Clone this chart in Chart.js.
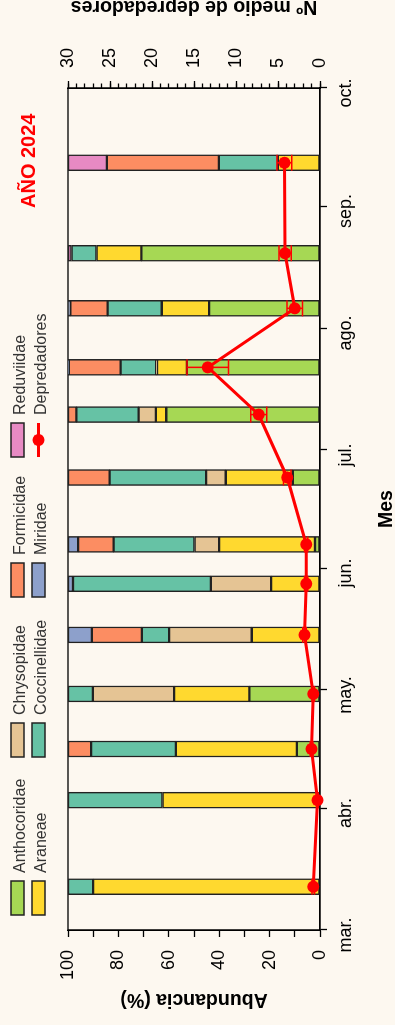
<!DOCTYPE html>
<html lang="es">
<head>
<meta charset="utf-8">
<title>Depredadores 2024</title>
<script src="https://cdn.jsdelivr.net/npm/chart.js@4.4.1/dist/chart.umd.min.js"></script>
<style>
  html, body { margin: 0; padding: 0; background: #fdf8f0; overflow: hidden; }
  /* the figure is laid out landscape and turned a quarter turn counter-clockwise */
  #frame {
    position: absolute; left: 0; top: 0;
    width: 1025px; height: 395px;
    transform-origin: 0 0;
    transform: translateY(1025px) rotate(-90deg);
  }
  canvas { display: block; }
</style>
</head>
<body>
<div id="frame"><canvas id="chart" width="1025" height="395"></canvas></div>
<script>
// ---- data ----------------------------------------------------------------
const seasonStart = '2024-03-01';
const samplingDates = ['2024-03-12', '2024-04-03', '2024-04-16', '2024-04-30', '2024-05-15',
  '2024-05-28', '2024-06-07', '2024-06-24', '2024-07-10', '2024-07-22', '2024-08-06',
  '2024-08-20', '2024-09-12'];

// relative abundance (%) of each predator group on each sampling date
const anthocoridae  = [null, null, 9.2, 28.0, null, null, 2.0, 10.8, 61.0, 52.8, 44.0, 70.9, null];
const araneae       = [90.0, 62.5, 48.0, 29.9, 27.1, 19.4, 38.0, 26.6, 4.1, 11.9, 18.8, 17.8, 16.7];
const chrysopidae   = [null, null, null, 32.2, 32.8, 23.9, 9.8, 7.8, 6.9, 0.3, null, null, null];
const coccinellidae = [10.0, 37.5, 33.6, 9.9, 10.8, 54.7, 32.1, 38.3, 24.7, 14.1, 21.5, 9.9, 23.4];
const formicidae    = [null, null, 9.2, null, 19.8, null, 14.1, 16.5, 3.3, 20.6, 14.8, null, 44.5];
const miridae       = [null, null, null, null, 9.5, 2.0, 4.0, null, null, 0.3, 0.9, null, null];
const reduviidae    = [null, null, null, null, null, null, null, null, null, null, null, 1.4, 15.4];

// mean number of predators and its standard error
const predatorMean = [0.8, 0.3, 1.0, 0.8, 1.85, 1.65, 1.65, 3.9, 7.3, 13.35, 3.0, 4.16, 4.24];
const predatorSE   = [0.15, 0.1, 0.15, 0.15, 0.2, 0.2, 0.2, 0.45, 0.95, 2.47, 0.93, 0.73, 0.89];

// axes
const monthStarts = ['2024-03-01', '2024-04-01', '2024-05-01', '2024-06-01', '2024-07-01',
  '2024-08-01', '2024-09-01', '2024-10-01'];
const monthLabels = ['mar.', 'abr.', 'may.', 'jun.', 'jul.', 'ago.', 'sep.', 'oct.'];
const abundanceTicks  = [0, 10, 20, 30, 40, 50, 60, 70, 80, 90, 100];
const abundanceLabels = [0, 20, 40, 60, 80, 100];
const predatorTicks   = [0, 1, 2, 3, 4, 5, 6, 7, 8, 9, 10, 11, 12, 13, 14, 15, 16, 17, 18, 19, 20,
  21, 22, 23, 24, 25, 26, 27, 28, 29, 30];
const predatorLabels  = [0, 5, 10, 15, 20, 25, 30];

const taxa = ['Anthocoridae', 'Araneae', 'Chrysopidae', 'Coccinellidae', 'Formicidae', 'Miridae', 'Reduviidae'];
const taxaValues = [anthocoridae, araneae, chrysopidae, coccinellidae, formicidae, miridae, reduviidae];
const predatorLabel = 'Depredadores';

// ---- styling -------------------------------------------------------------
const taxaColors = ['#a6d854', '#ffd92f', '#e5c494', '#66c2a5', '#fc8d62', '#8da0cb', '#e78ac3'];
const RED = '#ff0000';
const INK = '#000000';
const FONT = "'Liberation Sans', Arial, Helvetica, sans-serif";

// ---- helpers -------------------------------------------------------------
const DAY = 86400000;
const dayOf = d => (Date.parse(d) - Date.parse(seasonStart)) / DAY;
const samplingDays = samplingDates.map(dayOf);
const monthDays = monthStarts.map(dayOf);
const seasonEnd = monthDays[monthDays.length - 1];

Chart.defaults.font.family = FONT;
Chart.defaults.color = INK;

const barSets = taxa.map((name, k) => ({
  type: 'bar',
  label: name,
  data: samplingDays.map((d, i) => ({ x: d, y: taxaValues[k][i] })),
  backgroundColor: taxaColors[k],
  borderColor: '#222222',
  borderWidth: 1.5,
  borderSkipped: false,
  barThickness: 16,
  yAxisID: 'y',
  order: 2
}));

const lineSet = {
  type: 'line',
  label: predatorLabel,
  data: samplingDays.map((d, i) => ({ x: d, y: predatorMean[i] })),
  borderColor: RED,
  borderWidth: 3,
  pointRadius: 6,
  pointHoverRadius: 6,
  pointBackgroundColor: RED,
  pointBorderWidth: 0,
  tension: 0,
  yAxisID: 'y2',
  clip: false,
  order: 0
};

// ---- plugins -------------------------------------------------------------
const plotBox = {
  id: 'plotBox',
  beforeDatasetsDraw(chart) {
    const { ctx, chartArea: a } = chart;
    ctx.save();
    ctx.strokeStyle = INK;
    ctx.lineWidth = 1.3;
    ctx.strokeRect(a.left, a.top, a.right - a.left, a.bottom - a.top);
    ctx.restore();
  }
};

const errorBars = {
  id: 'errorBars',
  afterDatasetsDraw(chart) {
    const idx = chart.data.datasets.indexOf(lineSet);
    const meta = chart.getDatasetMeta(idx);
    const ys = chart.scales.y2;
    const { ctx } = chart;
    ctx.save();
    ctx.strokeStyle = RED;
    ctx.lineWidth = 1.5;
    meta.data.forEach((pt, i) => {
      const lo = ys.getPixelForValue(predatorMean[i] - predatorSE[i]);
      const hi = ys.getPixelForValue(predatorMean[i] + predatorSE[i]);
      ctx.beginPath();
      ctx.moveTo(pt.x, lo); ctx.lineTo(pt.x, hi);
      ctx.moveTo(pt.x - 8, lo); ctx.lineTo(pt.x + 8, lo);
      ctx.moveTo(pt.x - 8, hi); ctx.lineTo(pt.x + 8, hi);
      ctx.stroke();
    });
    ctx.restore();
  }
};

const annotations = {
  id: 'annotations',
  afterDraw(chart) {
    const { ctx, chartArea: a } = chart;
    ctx.save();

    // right-hand axis title, reading upwards
    ctx.fillStyle = INK;
    ctx.font = `bold 19.5px ${FONT}`;
    ctx.textAlign = 'center';
    ctx.textBaseline = 'alphabetic';
    ctx.translate(1024, (a.top + a.bottom) / 2);
    ctx.rotate(-Math.PI / 2);
    ctx.fillText('Nº medio de depredadores', 0, 0);
    ctx.setTransform(1, 0, 0, 1, 0, 0);

    // year tag
    ctx.fillStyle = RED;
    ctx.font = `bold 20px ${FONT}`;
    ctx.textAlign = 'left';
    ctx.fillText('AÑO 2024', 817, 35);

    // legend: four columns, two rows, filled column by column
    const colX = [110, 268, 428, 568];
    const rowY = [11, 32];
    const boxW = 34, boxH = 13;
    const items = taxa.map((name, k) => ({ name, color: taxaColors[k] }));
    items.push({ name: predatorLabel, line: true });
    ctx.font = `16px ${FONT}`;
    items.forEach((it, i) => {
      const x = colX[Math.floor(i / 2)];
      const y = rowY[i % 2];
      if (it.line) {
        ctx.strokeStyle = RED;
        ctx.lineWidth = 3;
        ctx.beginPath();
        ctx.moveTo(x, y + boxH / 2); ctx.lineTo(x + boxW, y + boxH / 2);
        ctx.stroke();
        ctx.fillStyle = RED;
        ctx.beginPath();
        ctx.arc(x + boxW / 2, y + boxH / 2, 6, 0, Math.PI * 2);
        ctx.fill();
      } else {
        ctx.fillStyle = it.color;
        ctx.fillRect(x, y, boxW, boxH);
        ctx.strokeStyle = '#222222';
        ctx.lineWidth = 1.5;
        ctx.strokeRect(x, y, boxW, boxH);
      }
      ctx.fillStyle = '#333333';
      ctx.textAlign = 'left';
      ctx.textBaseline = 'alphabetic';
      ctx.fillText(it.name, x + boxW + 8, y + boxH + 1);
    });
    ctx.restore();
  }
};

// ---- chart ---------------------------------------------------------------
const axisGrid = len => ({
  drawOnChartArea: false, drawTicks: true, tickLength: len,
  tickColor: INK, tickWidth: 1.3, offset: false
});

new Chart(document.getElementById('chart'), {
  type: 'bar',
  data: { datasets: [...barSets, lineSet] },
  options: {
    responsive: false,
    animation: false,
    events: [],
    layout: { padding: { top: 68, left: 0, right: 0, bottom: 0 } },
    plugins: { legend: { display: false }, tooltip: { enabled: false } },
    scales: {
      x: {
        type: 'linear', position: 'bottom', min: 0, max: seasonEnd,
        offset: false, stacked: true,
        afterBuildTicks: s => { s.ticks = monthDays.map(v => ({ value: v })); },
        afterFit: s => { s.height = 75; },
        grid: axisGrid(7),
        border: { display: true, color: INK, width: 1.3 },
        ticks: {
          autoSkip: false, maxRotation: 0, padding: 8.5, labelOffset: -5,
          font: { size: 18 }, color: INK,
          callback: v => { const k = monthDays.indexOf(v); return k >= 0 ? monthLabels[k] : ''; }
        },
        title: {
          display: true, text: 'Mes', color: INK, padding: 0,
          font: { size: 19.5, weight: 'bold', lineHeight: 0.85 }
        }
      },
      y: {
        type: 'linear', position: 'left', min: 0, max: 100, stacked: true,
        afterBuildTicks: s => { s.ticks = abundanceTicks.map(v => ({ value: v })); },
        afterFit: s => { s.width = 95; },
        grid: axisGrid(7),
        border: { display: true, color: INK, width: 1.3 },
        ticks: {
          autoSkip: false, padding: 13, font: { size: 18 }, color: INK,
          callback: v => abundanceLabels.includes(v) ? String(v) : ''
        },
        title: {
          display: true, text: 'Abundancia (%)', color: INK,
          padding: { top: 13.6, bottom: 0 },
          font: { size: 19.5, weight: 'bold' }
        }
      },
      y2minor: {
        type: 'linear', position: 'right', min: 0, max: 30, weight: 0,
        afterBuildTicks: s => { s.ticks = predatorTicks.map(v => ({ value: v })); },
        afterFit: s => { s.width = 0; },
        grid: axisGrid(4.5),
        border: { display: false },
        ticks: { autoSkip: false, padding: 0, font: { size: 4 }, callback: () => '' }
      },
      y2: {
        type: 'linear', position: 'right', min: 0, max: 30, weight: 1,
        afterBuildTicks: s => { s.ticks = predatorLabels.map(v => ({ value: v })); },
        afterFit: s => { s.width = 88; },
        grid: axisGrid(7),
        border: { display: true, color: INK, width: 1.3 },
        ticks: {
          autoSkip: false, padding: 13, font: { size: 18 }, color: INK,
          callback: v => String(v)
        }
      }
    }
  },
  plugins: [plotBox, errorBars, annotations]
});
</script>
</body>
</html>
